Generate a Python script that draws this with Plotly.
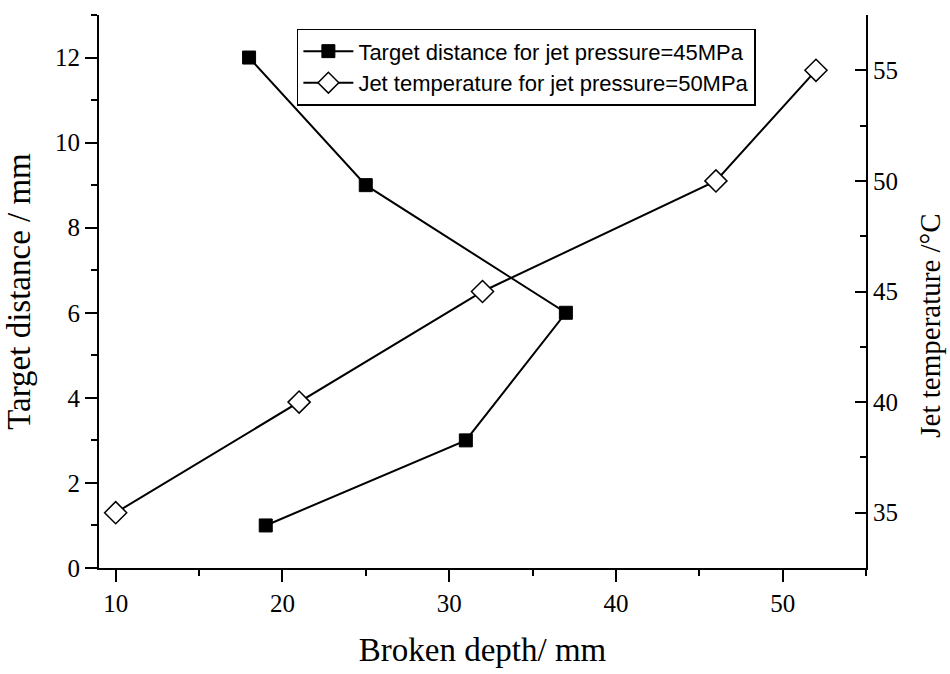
import plotly.graph_objects as go

# Target distance series (jet pressure 45 MPa)
td_depth = [18, 25, 37, 31, 19]
td_value = [12, 9, 6, 3, 1]

# Jet temperature series (jet pressure 50 MPa)
jt_depth = [10, 21, 32, 46, 52]
jt_value = [35, 40, 45, 50, 55]

x_ticks = [10, 20, 30, 40, 50]
y_ticks = [0, 2, 4, 6, 8, 10, 12]
y2_ticks = [35, 40, 45, 50, 55]

serif = "Liberation Serif"
sans = "Liberation Sans"

fig = go.Figure()
fig.add_trace(go.Scatter(
    x=td_depth, y=td_value, mode="lines+markers",
    name="Target distance for jet pressure=45MPa",
    line=dict(color="black", width=2),
    marker=dict(symbol="square", size=13, color="black",
                line=dict(color="black", width=1)),
))
fig.add_trace(go.Scatter(
    x=jt_depth, y=jt_value, mode="lines+markers", yaxis="y2",
    name="Jet temperature for jet pressure=50MPa",
    line=dict(color="black", width=2),
    marker=dict(symbol="diamond", size=17, color="white",
                line=dict(color="black", width=1.5)),
))

axis_common = dict(
    showline=True, linecolor="black", linewidth=2,
    tickwidth=2, tickcolor="black",
    showgrid=False, zeroline=False,
    tickfont=dict(family=serif, size=25, color="black"),
)

def minor(dtick, where="outside"):
    return dict(ticks=where, ticklen=6, tickwidth=2, tickcolor="black",
                dtick=dtick, tick0=0)

fig.update_layout(
    width=950, height=674,
    margin=dict(l=99, r=84, t=15, b=96),
    paper_bgcolor="white", plot_bgcolor="white",
    showlegend=True,
    legend=dict(
        x=0.258, y=0.975, xanchor="left", yanchor="top",
        bordercolor="black", borderwidth=1.5, bgcolor="white",
        font=dict(family=sans, size=22, color="black"),
        tracegroupgap=0, itemwidth=50,
    ),
    xaxis=dict(
        range=[9, 55], tickvals=x_ticks,
        ticks="outside", ticklen=12,
        title=dict(text="Broken depth/ mm", standoff=22,
                   font=dict(family=serif, size=33, color="black")),
        minor=minor(5),
        **axis_common,
    ),
    yaxis=dict(
        range=[0, 13], tickvals=y_ticks,
        ticks="outside", ticklen=12,
        title=dict(text="Target distance / mm", standoff=14,
                   font=dict(family=serif, size=33, color="black")),
        minor=minor(1),
        **axis_common,
    ),
    yaxis2=dict(
        overlaying="y", side="right", anchor="x",
        range=[32.5, 57.5], tickvals=y2_ticks,
        ticks="inside", ticklen=11,
        minor=minor(2.5, "inside"),
        **axis_common,
    ),
    annotations=[dict(
        text="Jet temperature /°C", textangle=-90,
        xref="paper", yref="paper", x=1.084, y=0.439,
        xanchor="center", yanchor="middle", showarrow=False,
        font=dict(family=serif, size=29, color="black"),
    )],
)

fig.write_html(
    "out.html",
    config={"displayModeBar": False},
    post_script="document.body.style.margin='0';document.body.style.overflow='hidden';",
)
